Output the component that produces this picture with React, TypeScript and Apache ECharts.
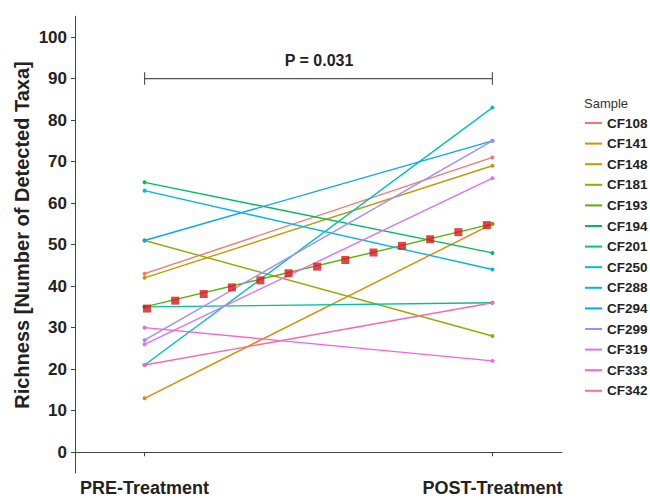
import React, { useEffect, useRef } from "react";
import * as echarts from "echarts";

const samples = ["CF108", "CF141", "CF148", "CF181", "CF193", "CF194", "CF201", "CF250", "CF288", "CF294", "CF299", "CF319", "CF333", "CF342"];
const colors = ["#F8766D", "#E38900", "#C49A00", "#99A800", "#53B400", "#00BC56", "#00C094", "#00BFC4", "#00B6EB", "#06A4FF", "#A58AFF", "#DF70F8", "#FB61D7", "#FF66A8"];
const preValues = [43, 13, 42, 51, 35, 65, 35, 21, 63, 51, 27, 26, 30, 21];
const postValues = [71, 55, 69, 28, 55, 48, 36, 83, 44, 75, 75, 66, 22, 36];
const xCategories = ["PRE-Treatment", "POST-Treatment"];
const xPositions = [1, 2];
const yTicks = [0, 10, 20, 30, 40, 50, 60, 70, 80, 90, 100];
// red square markers
const redX = [1.007, 1.088, 1.17, 1.251, 1.333, 1.414, 1.496, 1.577, 1.658, 1.74, 1.821, 1.902, 1.984];
const redY = [34.6, 36.5, 38.1, 39.7, 41.4, 43.1, 44.7, 46.3, 48.1, 49.7, 51.3, 53.0, 54.7];
const bracketY = 90;
const bracketTick = 1.5;
const pLabel = "P = 0.031";

const FONT = "Liberation Sans, Arial, sans-serif";

export default function App() {
  const ref = useRef<HTMLDivElement>(null);
  useEffect(() => {
    if (!ref.current) return;
    const chart = echarts.init(ref.current, undefined, { renderer: "svg" });
    const sampleSeries = samples.map((name, i) => ({
      name,
      type: "line",
      data: [
        [xPositions[0], preValues[i]],
        [xPositions[1], postValues[i]],
      ],
      symbol: "circle",
      symbolSize: 4,
      showSymbol: true,
      lineStyle: { width: 1.4, color: colors[i] },
      itemStyle: { color: colors[i] },
      z: 2,
    }));
    const option: any = {
      animation: false,
      backgroundColor: "#ffffff",
      textStyle: { fontFamily: FONT },
      grid: { left: 75, right: 88, top: 16.25, bottom: 25, containLabel: false },
      xAxis: {
        type: "value",
        min: 0.8,
        max: 2.2,
        splitLine: { show: false },
        axisLine: { show: true, lineStyle: { color: "#444", width: 1 } },
        axisTick: { show: true, customValues: xPositions, length: 4, lineStyle: { color: "#444" } },
        axisLabel: {
          customValues: xPositions,
          formatter: (v: number) => xCategories[xPositions.indexOf(v)] ?? "",
          fontFamily: FONT,
          fontWeight: "bold",
          fontSize: 18,
          color: "#222",
          margin: 6,
        },
      },
      yAxis: {
        type: "value",
        min: -5,
        max: 105,
        splitLine: { show: false },
        axisLine: { show: true, lineStyle: { color: "#444", width: 1 } },
        axisTick: { show: true, customValues: yTicks, length: 4, lineStyle: { color: "#444" } },
        axisLabel: {
          customValues: yTicks,
          fontFamily: FONT,
          fontWeight: "bold",
          fontSize: 17,
          color: "#222",
          margin: 8,
        },
      },
      legend: {
        data: samples,
        orient: "vertical",
        left: 585,
        top: 116,
        padding: 0,
        icon: "rect",
        itemWidth: 17,
        itemHeight: 2,
        itemGap: 6.6,
        textStyle: { fontFamily: FONT, fontWeight: "bold", fontSize: 13.5, color: "#222", lineHeight: 14 },
      },
      graphic: [
        {
          type: "text",
          x: 22,
          y: 235,
          rotation: Math.PI / 2,
          style: {
            text: "Richness [Number of Detected Taxa]",
            fontFamily: FONT,
            fontWeight: "bold",
            fontSize: 20,
            fill: "#222",
            textAlign: "center",
            textVerticalAlign: "middle",
          },
        },
        {
          type: "text",
          x: 319,
          y: 60,
          style: {
            text: pLabel,
            fontFamily: FONT,
            fontWeight: "bold",
            fontSize: 16,
            fill: "#222",
            textAlign: "center",
            textVerticalAlign: "middle",
          },
        },
        {
          type: "text",
          x: 584,
          y: 103,
          style: {
            text: "Sample",
            fontFamily: FONT,
            fontSize: 13,
            fill: "#333",
            textAlign: "left",
            textVerticalAlign: "middle",
          },
        },
      ],
      series: [
        ...sampleSeries,
        {
          name: "mean",
          type: "scatter",
          data: redX.map((x, i) => [x, redY[i]]),
          symbol: "rect",
          symbolSize: 8,
          itemStyle: { color: "#E0141B" },
          z: 5,
        },
        {
          name: "bracket",
          type: "line",
          data: [
            [xPositions[0], bracketY + bracketTick],
            [xPositions[0], bracketY - bracketTick],
            [xPositions[0], bracketY],
            [xPositions[1], bracketY],
            [xPositions[1], bracketY + bracketTick],
            [xPositions[1], bracketY - bracketTick],
          ],
          symbol: "none",
          lineStyle: { color: "#555", width: 1.2 },
          z: 3,
        },
      ],
    };
    chart.setOption(option);
    return () => chart.dispose();
  }, []);
  return <div ref={ref} style={{ width: 650, height: 498, position: "absolute", left: 0, top: 0 }} />;
}
